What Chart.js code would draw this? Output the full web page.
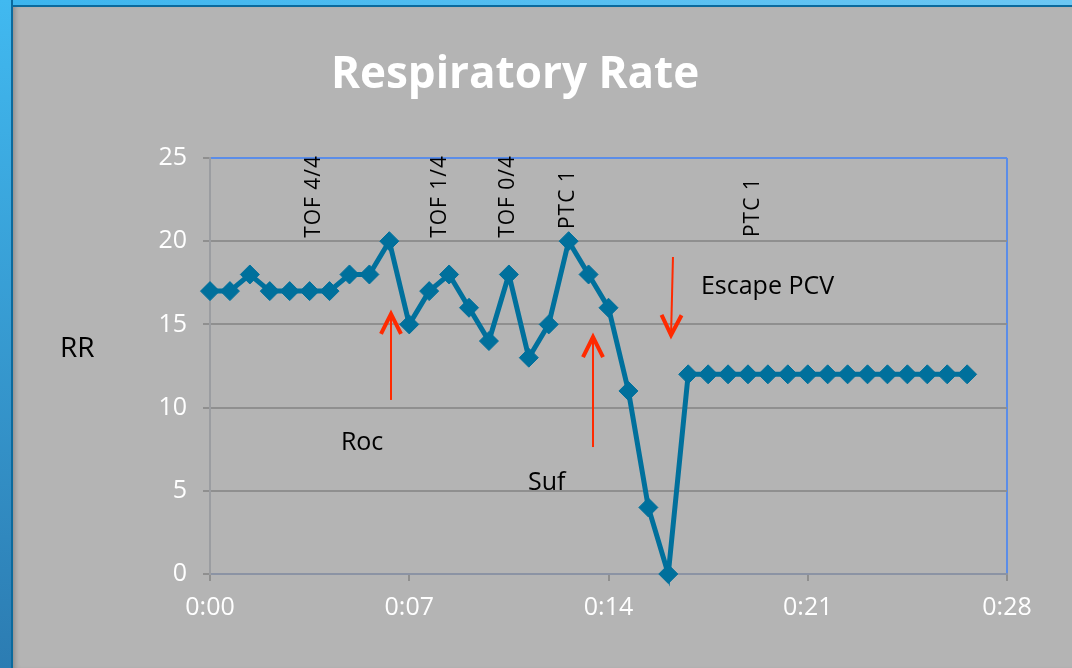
<!DOCTYPE html>
<html>
<head>
<meta charset="utf-8">
<title>Respiratory Rate</title>
<script src="https://cdn.jsdelivr.net/npm/chart.js@4.4.1/dist/chart.umd.min.js"></script>
<style>
  html, body { margin: 0; padding: 0; width: 1072px; height: 668px; overflow: hidden; background: #b4b4b4; }
  #topbar { position: absolute; left: 0; top: 0; width: 1072px; height: 5px;
            background: linear-gradient(to right, #3cb5ee, #6cc7f3); border-bottom: 2px solid #0b6a9d; }
  #sidebar { position: absolute; left: 0; top: 0; width: 11px; height: 668px;
             background: linear-gradient(to bottom, #41b9f0, #2c7cb2); border-right: 2px solid #0b6a9d; }
  #panel { position: absolute; left: 13px; top: 7px; right: 0; bottom: 0; background: #b4b4b4;
           box-shadow: inset 5px 0 5px -3px rgba(0,0,0,0.22); }
  #wrap { position: absolute; left: 0; top: 0; width: 1072px; height: 668px; }
</style>
</head>
<body>
<div id="topbar"></div>
<div id="sidebar"></div>
<div id="panel"></div>
<div id="wrap"><canvas id="chart" width="1072" height="668"></canvas></div>
<script>
// Elapsed time of each reading, in minutes
const minutes = [0, 0.72, 1.44, 2.16, 2.88, 3.6, 4.32, 5.04, 5.76, 6.48,
                 7.2, 7.92, 8.64, 9.36, 10.08, 10.8, 11.52, 12.24, 12.96, 13.68,
                 14.4, 15.12, 15.84, 16.56, 17.28, 18, 18.72, 19.44, 20.16, 20.88,
                 21.6, 22.32, 23.04, 23.76, 24.48, 25.2, 25.92, 26.64, 27.36];
// Respiratory rate (breaths / min)
const rr = [17, 17, 18, 17, 17, 17, 17, 18, 18, 20,
            15, 17, 18, 16, 14, 18, 13, 15, 20, 18,
            16, 11, 4, 0, 12, 12, 12, 12, 12, 12,
            12, 12, 12, 12, 12, 12, 12, 12, 12];
// Time axis: tick values (minutes) and their h:mm labels
const tickMinutes = [0, 7.2, 14.4, 21.6, 28.8];
const tickLabels = ['0:00', '0:07', '0:14', '0:21', '0:28'];

const titleText = 'Respiratory Rate';
const yLabel = 'RR';

// Vertical event labels (time in minutes, lower end in RR units)
const eventLabels = [
  { text: 'TOF 4/4', at: 3.69, from: 20.2 },
  { text: 'TOF 1/4', at: 8.24, from: 20.2 },
  { text: 'TOF 0/4', at: 10.73, from: 20.2 },
  { text: 'PTC 1', at: 12.9, from: 20.73 },
  { text: 'PTC 1', at: 19.55, from: 20.25 }
];
// Horizontal notes (left edge in minutes, baseline in RR units)
const notes = [
  { text: 'Escape PCV', at: 17.74, base: 16.83 },
  { text: 'Roc', at: 4.73, base: 7.45 },
  { text: 'Suf', at: 11.49, base: 5.05 }
];
// Red arrows (tail -> head, in minutes / RR units)
const arrows = [
  { x1: 6.54, y1: 10.46, x2: 6.54, y2: 15.63 },
  { x1: 13.84, y1: 7.63, x2: 13.84, y2: 14.24 },
  { x1: 16.73, y1: 19.05, x2: 16.66, y2: 14.36 }
];

const FONT = '"Open Sans", "DejaVu Sans", sans-serif';
const LINE_BLUE = '#00709c';
const GRID = '#8f8f8f';
const EDGE_BLUE = '#5b8de8';

const annotate = {
  id: 'annotate',
  afterDraw(chart) {
    const { ctx, scales: { x, y } } = chart;
    ctx.save();

    // title
    ctx.fillStyle = '#ffffff';
    ctx.font = 'bold 44px ' + FONT;
    ctx.textAlign = 'center';
    ctx.textBaseline = 'alphabetic';
    ctx.fillText(titleText, 515, 88);

    // axis label
    ctx.fillStyle = '#000000';
    ctx.font = '28px ' + FONT;
    ctx.textAlign = 'left';
    ctx.fillText(yLabel, 60, 357);

    // rotated event labels
    ctx.font = '21px ' + FONT;
    if ('letterSpacing' in ctx) ctx.letterSpacing = '1px';
    eventLabels.forEach(l => {
      const px = x.getPixelForValue(l.at);
      const py = y.getPixelForValue(l.from);
      ctx.save();
      ctx.translate(px + 7.5, py);
      ctx.rotate(-Math.PI / 2);
      ctx.textAlign = 'left';
      ctx.fillText(l.text, 0, 0);
      ctx.restore();
    });
    if ('letterSpacing' in ctx) ctx.letterSpacing = '0px';

    // notes
    ctx.font = '25px ' + FONT;
    notes.forEach(n => {
      ctx.fillText(n.text, x.getPixelForValue(n.at), y.getPixelForValue(n.base));
    });

    // arrows
    ctx.strokeStyle = '#ff2a00';
    arrows.forEach(a => {
      const sx = x.getPixelForValue(a.x1), sy = y.getPixelForValue(a.y1);
      const ex = x.getPixelForValue(a.x2), ey = y.getPixelForValue(a.y2);
      const len = Math.hypot(ex - sx, ey - sy);
      const dx = (ex - sx) / len, dy = (ey - sy) / len;
      ctx.lineWidth = 2;
      ctx.beginPath();
      ctx.moveTo(sx, sy);
      ctx.lineTo(ex - dx * 2, ey - dy * 2);
      ctx.stroke();
      const back = 20, side = 10;
      ctx.lineWidth = 4;
      ctx.lineJoin = 'miter';
      ctx.beginPath();
      ctx.moveTo(ex - dx * back - dy * side, ey - dy * back + dx * side);
      ctx.lineTo(ex, ey);
      ctx.lineTo(ex - dx * back + dy * side, ey - dy * back - dx * side);
      ctx.stroke();
    });

    ctx.restore();
  }
};

new Chart(document.getElementById('chart'), {
  type: 'line',
  data: {
    datasets: [{
      data: minutes.map((m, i) => ({ x: m, y: rr[i] })),
      borderColor: LINE_BLUE,
      backgroundColor: LINE_BLUE,
      borderWidth: 5,
      tension: 0,
      pointStyle: 'rectRot',
      pointRadius: 9.5,
      pointBorderWidth: 1,
      pointBackgroundColor: LINE_BLUE,
      pointBorderColor: LINE_BLUE,
      clip: false
    }]
  },
  options: {
    responsive: false,
    devicePixelRatio: 1,
    animation: false,
    layout: { padding: { left: 100, right: 65, top: 158, bottom: 34 } },
    plugins: { legend: { display: false }, title: { display: false }, tooltip: { enabled: false } },
    scales: {
      x: {
        type: 'linear',
        min: 0,
        max: 28.8,
        afterBuildTicks: s => { s.ticks = tickMinutes.map(v => ({ value: v })); },
        afterFit: s => { s.height = 60; },
        ticks: {
          color: '#ffffff',
          font: { family: FONT, size: 25 },
          padding: 12,
          maxRotation: 0,
          autoSkip: false,
          callback: (v, i) => tickLabels[i]
        },
        grid: {
          color: c => (c.index === tickMinutes.length - 1 ? EDGE_BLUE : 'rgba(0,0,0,0)'),
          lineWidth: 2,
          tickColor: GRID,
          tickLength: 7
        },
        border: { display: true, color: '#8b93a4', width: 2 }
      },
      y: {
        min: 0,
        max: 25,
        afterFit: s => { s.width = 110; },
        ticks: {
          stepSize: 5,
          color: '#ffffff',
          font: { family: FONT, size: 25 },
          padding: 16
        },
        grid: {
          color: c => (c.tick && c.tick.value === 25 ? EDGE_BLUE : GRID),
          lineWidth: 2,
          tickColor: GRID,
          tickLength: 7
        },
        border: { display: true, color: '#9b9da1', width: 2 }
      }
    }
  },
  plugins: [annotate]
});
</script>
</body>
</html>
